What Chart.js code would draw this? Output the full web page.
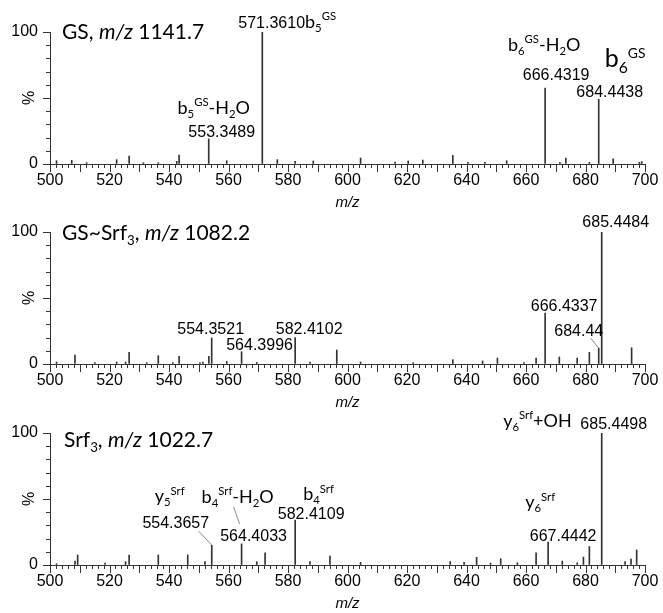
<!DOCTYPE html>
<html><head><meta charset="utf-8">
<script src="https://cdn.jsdelivr.net/npm/chart.js@4.4.1/dist/chart.umd.min.js"></script>
<style>
html,body{margin:0;padding:0;background:#fff;width:663px;height:613px;overflow:hidden}
canvas{position:absolute;left:0}
</style></head><body>
<canvas id="c1" width="663" height="212" style="top:0px"></canvas>
<canvas id="c2" width="663" height="212" style="top:200px"></canvas>
<canvas id="c3" width="663" height="212" style="top:401px"></canvas>
<script>
// ---- data (m/z, relative intensity %) ----
const GS_MZ  = [502.2,507.3,512.3,522.4,526.6,531.4,536.4,542.6,543.4,553.35,559.4,571.36,576.4,582.4,588.5,604.4,616.0,620.4,625.3,635.4,640.5,646.2,653.5,666.43,671.4,673.4,681.3,684.44,689.3,698.1,698.9];
const GS_INT = [2.5,2.8,1,3.3,6,1,1,2,6.8,19,2.5,100,3.3,2,2.3,4.5,1.5,2.3,3,6.5,1.2,1.3,2.5,57.6,1.3,4.5,1.3,49,4,1.3,1.8];

const GSSRF_MZ  = [502.2,508.4,515.1,522.4,525.4,526.6,532.5,536.4,541.3,543.4,550.4,551.4,553.4,554.35,559.4,564.40,569.5,582.41,587.4,596.4,604.4,622.1,635.4,645.4,650.4,659.3,663.4,666.43,671.2,677.2,681.3,684.44,685.45,695.5];
const GSSRF_INT = [1.5,6.8,1,1.5,1.5,8.8,1,6.3,1,5.8,1,1.5,5.8,19.7,2,9.3,1.2,20,1.5,10.6,1.5,1,3.3,2.3,4.5,1,4.5,38.6,5.3,4.5,8.8,12,100,12.3];

const SRF_MZ  = [502.2,508.4,509.3,518.5,525.4,526.6,536.4,546.3,552.1,554.37,564.40,569.5,572.3,582.41,587.4,594.1,604.4,634.5,639.2,643.4,648.1,651.5,657.1,663.4,667.44,672.2,677.2,679.3,681.3,685.45,693.3,695.3,697.2];
const SRF_INT = [1,3,7.6,1.5,2.5,7.6,7.6,7.6,2.5,15,16,2.5,9.3,34,2.5,6.8,2,2.5,2,5.8,1.5,4.8,1.7,9.3,17.3,3,1.7,6,14,100,2.5,4.5,11.4];

const X_TICKS = [500,520,540,560,580,600,620,640,660,680,700];
const Y_TICKS = [0,50,100];
const Y_TICK_LABELS = {0:'0',100:'100'};

// ---- text helpers ----
const NUM_FONT = 'Liberation Sans';
const ION_FONT = 'Lato';
const N   = t => ({t, fam: NUM_FONT, size: 16, dy: 0});
const T   = (t, s=18) => ({t, fam: ION_FONT, size: s, dy: 0});
const SUB = (t, s=18) => ({t, fam: ION_FONT, size: s*0.63, dy: s*0.22});
const SUP = (t, s=18) => ({t, fam: ION_FONT, size: s*0.63, dy: -s*0.42});
const IT  = (t, s=18) => ({t, fam: ION_FONT, size: s, dy: 0, style: 'italic'});

function fontOf(p){ return `${p.style||'normal'} ${p.size}px "${p.fam}"`; }
function drawRich(ctx, x, y, parts, align){
  let w = 0;
  const ws = parts.map(p => { ctx.font = fontOf(p); const m = ctx.measureText(p.t).width; w += m; return m; });
  let cx = align === 'center' ? x - w/2 : (align === 'right' ? x - w : x);
  ctx.textBaseline = 'alphabetic'; ctx.textAlign = 'left'; ctx.fillStyle = '#000';
  parts.forEach((p,i) => { ctx.font = fontOf(p); ctx.fillText(p.t, cx, y + p.dy); cx += ws[i]; });
}

// ---- annotations (anchored to peaks through the scales; offsets in px) ----
const NOTES1 = [
  {mz:571.36, v:100, dx:-24, dy:-4, align:'left', parts:[N('571.3610'), T('b'), SUB('5'), SUP('GS')]},
  {mz:553.35, v:19, dx:13, dy:-2, align:'center', parts:[N('553.3489')]},
  {mz:553.35, v:19, dx:5, dy:-25, align:'center', parts:[T('b'),SUB('5'),SUP('GS'),T('-H'),SUB('2'),T('O')]},
  {mz:666.43, v:57.6, dx:11, dy:-8, align:'center', parts:[N('666.4319')]},
  {mz:666.43, v:57.6, dx:-1, dy:-37, align:'center', parts:[T('b'),SUB('6'),SUP('GS'),T('-H'),SUB('2'),T('O')]},
  {mz:684.44, v:49, dx:11, dy:-2, align:'center', parts:[N('684.4438')]},
  {mz:684.44, v:49, dx:6, dy:-32, align:'left', parts:[T('b',25),SUB('6',25),SUP('GS',22)]}
];
const NOTES2 = [
  {mz:685.45, v:100, dx:14, dy:-5, align:'center', parts:[N('685.4484')]},
  {mz:666.43, v:38.6, dx:19, dy:-2, align:'center', parts:[N('666.4337')]},
  {mz:684.44, v:12, dx:-20, dy:-12, align:'center', parts:[N('684.44')], leader:[-8,-10,0,0]},
  {mz:554.35, v:19.7, dx:-1, dy:-4, align:'center', parts:[N('554.3521')]},
  {mz:582.41, v:20, dx:14, dy:-4, align:'center', parts:[N('582.4102')]},
  {mz:564.40, v:9.3, dx:18, dy:-2, align:'center', parts:[N('564.3996')]}
];
const NOTES3 = [
  {mz:685.45, v:100, dx:12, dy:-4, align:'center', parts:[N('685.4498')]},
  {mz:685.45, v:100, dx:-30, dy:-6, align:'right', parts:[T('y'),SUB('6'),SUP('Srf'),T('+OH')]},
  {mz:554.37, v:15, dx:-36, dy:-17, align:'center', parts:[N('554.3657')], leader:[-13,-14,0,0]},
  {mz:554.37, v:15, dx:-57, dy:-43, align:'left', parts:[T('y'),SUB('5'),SUP('Srf')]},
  {mz:564.40, v:16, dx:12, dy:-3, align:'center', parts:[N('564.4033')]},
  {mz:564.40, v:16, dx:-40, dy:-41, align:'left', parts:[T('b'),SUB('4'),SUP('Srf'),T('-H'),SUB('2'),T('O')], leader:[-8,-37,-2,-20]},
  {mz:582.41, v:34, dx:16, dy:-1, align:'center', parts:[N('582.4109')]},
  {mz:582.41, v:34, dx:8, dy:-20, align:'left', parts:[T('b'),SUB('4'),SUP('Srf')]},
  {mz:667.44, v:17.3, dx:15, dy:-1, align:'center', parts:[N('667.4442')]},
  {mz:667.44, v:17.3, dx:-23, dy:-34, align:'left', parts:[T('y'),SUB('6'),SUP('Srf')]}
];
const TITLE1 = {dx:12, y:39, parts:[T('GS, ',21), IT('m/z',21), T(' 1141.7',21)]};
const TITLE2 = {dx:12, y:40, parts:[T('GS~Srf',21), SUB('3',21), T(', ',21), IT('m/z',21), T(' 1082.2',21)]};
const TITLE3 = {dx:14, y:46, parts:[T('Srf',21), SUB('3',21), T(', ',21), IT('m/z',21), T(' 1022.7',21)]};

const decor = {
  id: 'decor',
  afterDraw(chart, args, opts){
    const ctx = chart.ctx, xs = chart.scales.x, ys = chart.scales.y, ca = chart.chartArea;
    ctx.save();
    ctx.strokeStyle = '#333'; ctx.lineWidth = 1;
    ctx.beginPath();
    for (let v = 500; v <= 700; v += 2){
      const px = Math.round(xs.getPixelForValue(v)) + 0.5;
      const len = (v % 10 === 0) ? 8 : 4;
      ctx.moveTo(px, ca.bottom); ctx.lineTo(px, ca.bottom + len);
    }
    for (let v = 0; v <= 100; v += 10){
      const py = Math.round(ys.getPixelForValue(v)) + 0.5;
      const len = (v % 50 === 0) ? 7 : 4;
      ctx.moveTo(ca.left - len, py); ctx.lineTo(ca.left, py);
    }
    ctx.stroke();
    const t = opts.title;
    drawRich(ctx, ca.left + t.dx, t.y, t.parts, 'left');
    opts.notes.forEach(n => {
      const px = xs.getPixelForValue(n.mz), py = ys.getPixelForValue(n.v);
      if (n.leader){
        ctx.strokeStyle = '#8a8a8a'; ctx.lineWidth = 1;
        ctx.beginPath();
        ctx.moveTo(px + n.leader[0], py + n.leader[1]);
        ctx.lineTo(px + n.leader[2], py + n.leader[3]);
        ctx.stroke();
      }
      drawRich(ctx, px + n.dx, py + n.dy, n.parts, n.align);
    });
    ctx.restore();
  }
};

function makeChart(id, mz, inten, title, notes){
  return new Chart(document.getElementById(id), {
    type: 'bar',
    data: { datasets: [{ data: mz.map((x,i) => ({x, y: inten[i]})), backgroundColor: '#333', borderWidth: 0, barThickness: 1 }] },
    options: {
      responsive: false, animation: false, events: [],
      layout: { padding: { left: 0, right: 18, top: 32, bottom: 0 } },
      plugins: { legend: {display: false}, tooltip: {enabled: false}, decor: { title, notes } },
      scales: {
        x: {
          type: 'linear', min: 500, max: 700, offset: false,
          afterBuildTicks: s => { s.ticks = X_TICKS.map(v => ({value: v})); },
          ticks: { autoSkip: false, maxRotation: 0, color: '#000', padding: 0, font: {family: NUM_FONT, size: 16} },
          grid: { display: true, offset: false, drawOnChartArea: false, drawTicks: true, tickLength: 7, tickColor: 'rgba(0,0,0,0)' },
          border: { display: true, color: '#333', width: 1 },
          title: { display: true, text: 'm/z', color: '#000', padding: {top: 0, bottom: 0}, font: {family: NUM_FONT, size: 15, style: 'italic'} },
          afterFit: s => { s.height = 48; }
        },
        y: {
          min: 0, max: 100,
          afterBuildTicks: s => { s.ticks = Y_TICKS.map(v => ({value: v})); },
          ticks: { autoSkip: false, color: '#000', padding: 5, font: {family: NUM_FONT, size: 16}, callback: v => Y_TICK_LABELS[v] || '' },
          grid: { display: true, drawOnChartArea: false, drawTicks: true, tickLength: 7, tickColor: 'rgba(0,0,0,0)' },
          border: { display: true, color: '#333', width: 1 },
          title: { display: true, text: '%', color: '#000', padding: {top: 20, bottom: 0}, font: {family: NUM_FONT, size: 16} },
          afterFit: s => { s.width = 50; }
        }
      }
    },
    plugins: [decor]
  });
}

makeChart('c1', GS_MZ, GS_INT, TITLE1, NOTES1);
makeChart('c2', GSSRF_MZ, GSSRF_INT, TITLE2, NOTES2);
makeChart('c3', SRF_MZ, SRF_INT, TITLE3, NOTES3);
</script>
</body></html>
